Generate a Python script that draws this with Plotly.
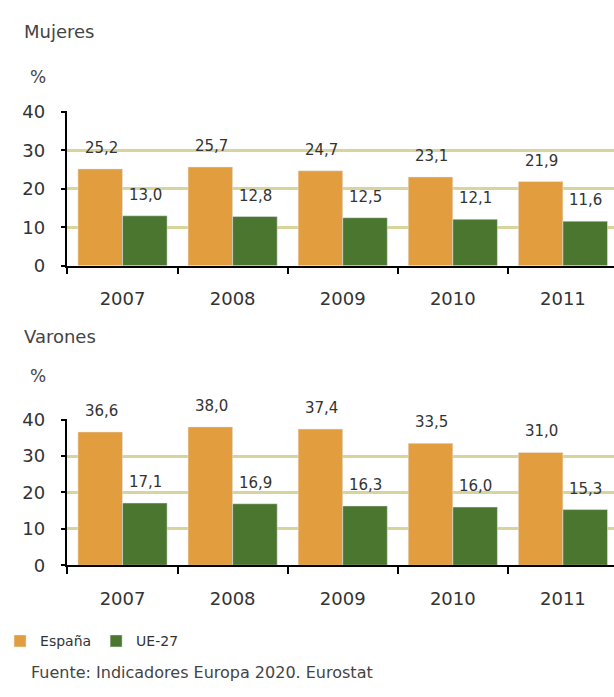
import plotly.graph_objects as go

years = ["2007", "2008", "2009", "2010", "2011"]
mujeres_espana = [25.2, 25.7, 24.7, 23.1, 21.9]
mujeres_ue27 = [13.0, 12.8, 12.5, 12.1, 11.6]
varones_espana = [36.6, 38.0, 37.4, 33.5, 31.0]
varones_ue27 = [17.1, 16.9, 16.3, 16.0, 15.3]
series_names = ["España", "UE-27"]
panel_titles = ["Mujeres", "Varones"]
unit_label = "%"
source_text = "Fuente: Indicadores Europa 2020. Eurostat"

ORANGE = "#E29D3F"
GREEN = "#4B7630"
GRID = "#D8D49C"
FONT = "DejaVu Sans"
W, H = 614, 697
YMAX = 40.25

def py(p):
    return 1 - p / H

def domain(p0, p40):
    ppu = (p0 - p40) / 40.0
    ptop = p0 - YMAX * ppu
    return [py(p0), py(ptop)]

fig = go.Figure()

panels = [
    (mujeres_espana, mujeres_ue27, "x", "y"),
    (varones_espana, varones_ue27, "x2", "y2"),
]
for i, (esp, ue, xa, ya) in enumerate(panels):
    fig.add_trace(go.Bar(x=years, y=esp, name=series_names[0], marker_color=ORANGE,
                         xaxis=xa, yaxis=ya, showlegend=(i == 0), legendgroup="esp"))
    fig.add_trace(go.Bar(x=years, y=ue, name=series_names[1], marker_color=GREEN,
                         xaxis=xa, yaxis=ya, showlegend=(i == 0), legendgroup="ue"))

def fmt(v):
    return f"{v:.1f}".replace(".", ",")

# value labels above bars
annotations = []
for esp, ue, xa, ya in panels:
    for idx, v in enumerate(esp):
        annotations.append(dict(x=idx, y=v, xref=xa, yref=ya, text=fmt(v),
                                showarrow=False, xshift=-21, yshift=21, yanchor="middle",
                                font=dict(family=FONT, size=15, color="#333333")))
    for idx, v in enumerate(ue):
        annotations.append(dict(x=idx, y=v, xref=xa, yref=ya, text=fmt(v),
                                showarrow=False, xshift=23, yshift=21, yanchor="middle",
                                font=dict(family=FONT, size=15, color="#333333")))

# titles and units
for title, ty, uy in [(panel_titles[0], 22, 69), (panel_titles[1], 336, 377)]:
    annotations.append(dict(x=17 / W, y=py(ty), xref="paper", yref="paper", text=title,
                            showarrow=False, xanchor="left", yanchor="middle",
                            font=dict(family=FONT, size=18, color="#444444")))
    annotations.append(dict(x=23 / W, y=py(uy), xref="paper", yref="paper", text=unit_label,
                            showarrow=False, xanchor="left", yanchor="middle",
                            font=dict(family=FONT, size=17, color="#444444")))

annotations.append(dict(x=24 / W, y=py(682), xref="paper", yref="paper", text=source_text,
                        showarrow=False, xanchor="left", yanchor="middle",
                        font=dict(family=FONT, size=16, color="#444444")))

x_dom = [63 / W, 1]
xaxis_common = dict(type="category", range=[-0.5, 4.464], domain=x_dom,
                    showline=True, linecolor="black", linewidth=1.5,
                    ticks="outside", tickson="boundaries", ticklen=7, tickcolor="black",
                    tickwidth=1.5, ticklabelstandoff=16, showgrid=False,
                    tickfont=dict(family=FONT, size=18, color="#333333"), fixedrange=True)
yaxis_common = dict(range=[0, YMAX], tickvals=[0, 10, 20, 30, 40], showline=True,
                    linecolor="black", linewidth=1.5,
                    ticks="outside", ticklen=5, tickcolor="black", tickwidth=1.5,
                    ticklabelstandoff=12,
                    showgrid=True, gridcolor=GRID, gridwidth=3, zeroline=False,
                    tickfont=dict(family=FONT, size=18, color="#333333"))

fig.update_layout(
    width=W, height=H,
    margin=dict(l=0, r=0, t=0, b=0),
    paper_bgcolor="white", plot_bgcolor="white",
    barmode="group", bargap=0.19, bargroupgap=0,
    xaxis=dict(**xaxis_common, anchor="y"),
    yaxis=dict(**yaxis_common, domain=domain(263.3, 105), anchor="x"),
    xaxis2=dict(**xaxis_common, anchor="y2"),
    yaxis2=dict(**yaxis_common, domain=domain(571.7, 421.7), anchor="x2"),
    legend=dict(orientation="h", x=-5 / W, y=py(650), xanchor="left", yanchor="middle",
                font=dict(family=FONT, size=14, color="#333333"), traceorder="normal",
                itemwidth=30, bgcolor="rgba(0,0,0,0)"),
    annotations=annotations,
    font=dict(family=FONT),
)

fig.write_html("out.html", config={"displayModeBar": False},
               post_script="document.body.style.margin='0';document.body.style.overflow='hidden';")
